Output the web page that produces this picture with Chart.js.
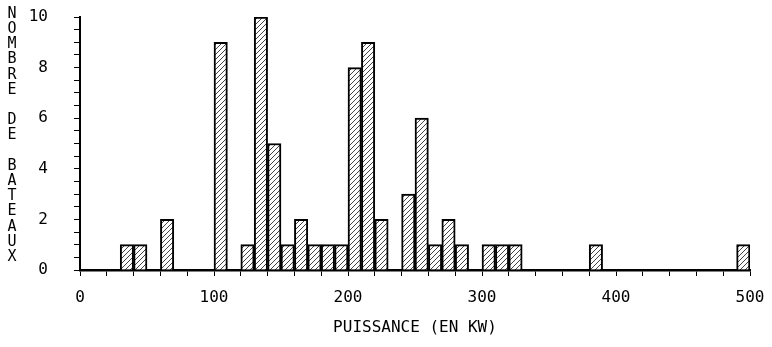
<!DOCTYPE html>
<html>
<head>
<meta charset="utf-8">
<script src="https://cdn.jsdelivr.net/npm/chart.js@4/dist/chart.umd.min.js"></script>
<style>
  html, body { margin: 0; padding: 0; background: #fff; }
</style>
</head>
<body>
<canvas id="myChart" width="772" height="347"></canvas>
<script>
// histogram data : number of boats per 10 kW power class
var binWidth = 10;
var counts = [
    0, 0, 0, 1, 1, 0, 2, 0, 0, 0,      // 0 - 100
    9, 0, 1, 10, 5, 1, 2, 1, 1, 1,     // 100 - 200
    8, 9, 2, 0, 3, 6, 1, 2, 1, 0,      // 200 - 300
    1, 1, 1, 0, 0, 0, 0, 0, 1, 0,      // 300 - 400
    0, 0, 0, 0, 0, 0, 0, 0, 0, 1       // 400 - 500
];
var xTickLabels = [0, 100, 200, 300, 400, 500];
var yTickLabels = [0, 2, 4, 6, 8, 10];
var xTitle = 'PUISSANCE (EN KW)';
var yTitle = 'NOMBRE DE BATEAUX';

var FONT = '"DejaVu Sans Mono", "Liberation Mono", monospace';

//hatch pattern for the bars
function makeHatch() {
    var c = document.createElement('canvas');
    c.width = 5;
    c.height = 5;
    var g = c.getContext('2d');
    g.fillStyle = '#fff';
    g.fillRect(0, 0, 5, 5);
    g.strokeStyle = '#444';
    g.lineWidth = 1;
    g.beginPath();
    g.moveTo(-1, 6); g.lineTo(6, -1);
    g.moveTo(-1, 1); g.lineTo(1, -1);
    g.moveTo(4, 6); g.lineTo(6, 4);
    g.stroke();
    return g.createPattern(c, 'repeat');
}

var points = counts.map(function (c, i) {
    return { x: i * binWidth + binWidth / 2, y: c };
});

// y title drawn as a column of upright letters
var stackedTitle = {
    id: 'stackedTitle',
    afterDraw: function (chart) {
        var ctx = chart.ctx;
        ctx.save();
        ctx.font = '15px ' + FONT;
        ctx.fillStyle = '#000';
        ctx.textAlign = 'center';
        ctx.textBaseline = 'middle';
        yTitle.split('').forEach(function (ch, i) {
            if (ch !== ' ') ctx.fillText(ch, 12, 14 + i * 15.2);
        });
        ctx.restore();
    }
};

var ctx = document.getElementById('myChart').getContext('2d');
var myChart = new Chart(ctx, {
    type: 'bar',
    data: {
        datasets: [{
            data: points,
            backgroundColor: makeHatch(),
            borderColor: '#000',
            borderWidth: 2,
            borderSkipped: 'start',
            barPercentage: 1,
            categoryPercentage: 1
        }]
    },
    options: {
        responsive: false,
        animation: false,
        layout: { autoPadding: false, padding: { top: 17, right: 22, left: 0, bottom: 0 } },
        plugins: { legend: { display: false }, tooltip: { enabled: false } },
        scales: {
            x: {
                type: 'linear',
                min: 0,
                max: 500,
                offset: false,
                afterFit: function (s) {
                    s.height = 77;
                    s.paddingLeft = 0;
                    s.paddingRight = 0;
                },
                border: { display: true, color: '#000', width: 2.5 },
                grid: { drawOnChartArea: false, drawTicks: true, tickLength: 6, color: '#000', lineWidth: 1, offset: false },
                ticks: {
                    stepSize: 20,
                    autoSkip: false,
                    maxRotation: 0,
                    padding: 12,
                    color: '#000',
                    font: { family: FONT, size: 16 },
                    callback: function (v) { return xTickLabels.indexOf(v) >= 0 ? String(v) : ''; }
                },
                title: {
                    display: true,
                    text: xTitle,
                    color: '#000',
                    font: { family: FONT, size: 16 },
                    padding: { top: 4, bottom: 10 }
                }
            },
            y: {
                min: 0,
                max: 10,
                afterFit: function (s) {
                    s.width = 80;
                    s.paddingTop = 0;
                    s.paddingBottom = 0;
                },
                border: { display: true, color: '#000', width: 2 },
                grid: { drawOnChartArea: false, drawTicks: true, tickLength: 6, color: '#000', lineWidth: 1 },
                ticks: {
                    stepSize: 0.5,
                    autoSkip: false,
                    padding: 26,
                    color: '#000',
                    font: { family: FONT, size: 16 },
                    callback: function (v) { return yTickLabels.indexOf(v) >= 0 ? String(v) : ''; }
                }
            }
        }
    },
    plugins: [stackedTitle]
});
</script>
</body>
</html>
